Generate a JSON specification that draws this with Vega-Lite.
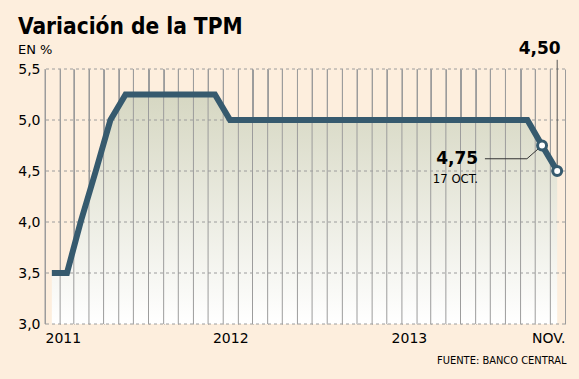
{
  "$schema": "https://vega.github.io/schema/vega-lite/v6.json",
  "width": 520,
  "height": 255,
  "autosize": {"type": "none"},
  "padding": {"left": 45, "top": 69, "right": 14, "bottom": 55},
  "background": "#fdeedd",
  "config": {"view": {"stroke": null}, "font": "DejaVu Sans"},
  "title": {
    "text": "Variación de la TPM",
    "subtitle": "EN %",
    "anchor": "start",
    "frame": "group",
    "font": "DejaVu Sans Condensed, Liberation Sans",
    "fontSize": 22.5,
    "fontWeight": "bold",
    "color": "#000000",
    "subtitleFont": "DejaVu Sans",
    "subtitleFontSize": 13,
    "subtitleColor": "#000000",
    "subtitlePadding": 5,
    "dx": -27,
    "offset": -17
  },
  "datasets": {
    "tpm": [
      {"date": "2011-01-15T00:00", "tpm": 3.5},
      {"date": "2011-02-15T00:00", "tpm": 3.5},
      {"date": "2011-03-15T00:00", "tpm": 4.0},
      {"date": "2011-04-15T00:00", "tpm": 4.5},
      {"date": "2011-05-15T00:00", "tpm": 5.0},
      {"date": "2011-06-15T00:00", "tpm": 5.25},
      {"date": "2011-07-15T00:00", "tpm": 5.25},
      {"date": "2011-08-15T00:00", "tpm": 5.25},
      {"date": "2011-09-15T00:00", "tpm": 5.25},
      {"date": "2011-10-15T00:00", "tpm": 5.25},
      {"date": "2011-11-15T00:00", "tpm": 5.25},
      {"date": "2011-12-15T00:00", "tpm": 5.25},
      {"date": "2012-01-15T00:00", "tpm": 5.0},
      {"date": "2012-02-15T00:00", "tpm": 5.0},
      {"date": "2012-03-15T00:00", "tpm": 5.0},
      {"date": "2012-04-15T00:00", "tpm": 5.0},
      {"date": "2012-05-15T00:00", "tpm": 5.0},
      {"date": "2012-06-15T00:00", "tpm": 5.0},
      {"date": "2012-07-15T00:00", "tpm": 5.0},
      {"date": "2012-08-15T00:00", "tpm": 5.0},
      {"date": "2012-09-15T00:00", "tpm": 5.0},
      {"date": "2012-10-15T00:00", "tpm": 5.0},
      {"date": "2012-11-15T00:00", "tpm": 5.0},
      {"date": "2012-12-15T00:00", "tpm": 5.0},
      {"date": "2013-01-15T00:00", "tpm": 5.0},
      {"date": "2013-02-15T00:00", "tpm": 5.0},
      {"date": "2013-03-15T00:00", "tpm": 5.0},
      {"date": "2013-04-15T00:00", "tpm": 5.0},
      {"date": "2013-05-15T00:00", "tpm": 5.0},
      {"date": "2013-06-15T00:00", "tpm": 5.0},
      {"date": "2013-07-15T00:00", "tpm": 5.0},
      {"date": "2013-08-15T00:00", "tpm": 5.0},
      {"date": "2013-09-15T00:00", "tpm": 5.0},
      {"date": "2013-10-15T00:00", "tpm": 4.75},
      {"date": "2013-11-15T00:00", "tpm": 4.5}
    ]
  },
  "layer": [
    {
      "data": {"name": "tpm"},
      "mark": {
        "type": "area",
        "line": false,
        "fill": {
          "gradient": "linear",
          "x1": 0, "y1": 0, "x2": 0, "y2": 1,
          "stops": [
            {"offset": 0, "color": "#d6d7c2"},
            {"offset": 1, "color": "#ffffff"}
          ]
        }
      },
      "encoding": {
        "x": {
          "field": "date",
          "type": "temporal",
          "scale": {"domain": [{"year": 2011, "month": 1, "date": 1}, {"year": 2013, "month": 12, "date": 1}]},
          "axis": {
            "tickCount": {"interval": "month", "step": 1},
            "grid": true,
            "gridColor": "#9c9c9c",
            "gridWidth": 1,
            "ticks": false,
            "domain": false,
            "labelExpr": "month(datum.value)==0 ? timeFormat(datum.value,'%Y') : (year(datum.value)==2013 && month(datum.value)==11 ? 'NOV.' : '')",
            "labelFlush": true,
            "labelOverlap": false,
            "labelFont": "DejaVu Sans",
            "labelFontSize": 14,
            "labelColor": "#000000",
            "labelPadding": 7,
            "labelOffset": {"condition": {"test": "month(datum.value)==0 && year(datum.value)>2011", "value": 7}, "value": 0},
            "title": "FUENTE: BANCO CENTRAL",
            "titleFont": "DejaVu Sans Condensed, Liberation Sans",
            "titleFontSize": 11,
            "titleFontWeight": "normal",
            "titleColor": "#000000",
            "titleAnchor": "end",
            "titleAlign": "right",
            "titleBaseline": "alphabetic",
            "titleX": 521,
            "titleY": 39
          }
        },
        "y": {
          "field": "tpm",
          "type": "quantitative",
          "scale": {"domain": [3, 5.5], "zero": false, "nice": false},
          "axis": {
            "values": [3, 3.5, 4, 4.5, 5, 5.5],
            "grid": false,
            "domain": false,
            "ticks": false,
            "labelExpr": "replace(format(datum.value,'.1f'),'.',',')",
            "labelFont": "DejaVu Sans",
            "labelFontSize": 14,
            "labelColor": "#000000",
            "labelPadding": 5,
            "title": null
          }
        },
        "y2": {"datum": 3}
      }
    },
    {
      "data": {"name": "tpm"},
      "mark": {"type": "rule", "color": "#9c9c9c", "strokeWidth": 1},
      "encoding": {
        "x": {"field": "date", "timeUnit": "yearmonth", "type": "temporal"}
      }
    },
    {
      "data": {"values": [{"tpm": 3}, {"tpm": 3.5}, {"tpm": 4}, {"tpm": 4.5}, {"tpm": 5}, {"tpm": 5.5}]},
      "mark": {"type": "rule", "color": "#9c9c9c", "strokeWidth": 1, "strokeDash": [3, 3]},
      "encoding": {
        "y": {"field": "tpm", "type": "quantitative"}
      }
    },
    {
      "data": {"values": [{"date": "2013-11-15T00:00", "tpm": 4.5, "to": 5.59}]},
      "mark": {"type": "rule", "color": "#555555", "strokeWidth": 1},
      "encoding": {
        "x": {"field": "date", "type": "temporal"},
        "y": {"field": "tpm", "type": "quantitative"},
        "y2": {"field": "to"}
      }
    },
    {
      "data": {"values": [
        {"date": "2013-06-20T00:00", "tpm": 4.62},
        {"date": "2013-09-14T00:00", "tpm": 4.62},
        {"date": "2013-10-15T00:00", "tpm": 4.75}
      ]},
      "mark": {"type": "line", "color": "#333333", "strokeWidth": 1},
      "encoding": {
        "x": {"field": "date", "type": "temporal"},
        "y": {"field": "tpm", "type": "quantitative"}
      }
    },
    {
      "data": {"name": "tpm"},
      "mark": {"type": "line", "color": "#365a6e", "strokeWidth": 6, "strokeJoin": "miter", "strokeCap": "butt"},
      "encoding": {
        "x": {"field": "date", "type": "temporal"},
        "y": {"field": "tpm", "type": "quantitative"}
      }
    },
    {
      "data": {"name": "tpm"},
      "transform": [{"filter": "datum.date >= datetime(2013, 9, 1)"}],
      "mark": {"type": "point", "shape": "circle", "filled": true, "fill": "#ffffff", "stroke": "#365a6e", "strokeWidth": 3, "size": 80, "opacity": 1},
      "encoding": {
        "x": {"field": "date", "type": "temporal"},
        "y": {"field": "tpm", "type": "quantitative"}
      }
    },
    {
      "data": {"values": [{"date": "2013-11-22T00:00", "tpm": 5.65, "label": "4,50"}]},
      "mark": {"type": "text", "align": "right", "baseline": "alphabetic", "font": "DejaVu Sans", "fontSize": 17, "fontWeight": "bold", "color": "#000000"},
      "encoding": {
        "x": {"field": "date", "type": "temporal"},
        "y": {"field": "tpm", "type": "quantitative"},
        "text": {"field": "label"}
      }
    },
    {
      "data": {"values": [{"date": "2013-06-06T00:00", "tpm": 4.62, "label": "4,75"}]},
      "mark": {"type": "text", "align": "right", "baseline": "middle", "font": "DejaVu Sans", "fontSize": 17, "fontWeight": "bold", "color": "#000000"},
      "encoding": {
        "x": {"field": "date", "type": "temporal"},
        "y": {"field": "tpm", "type": "quantitative"},
        "text": {"field": "label"}
      }
    },
    {
      "data": {"values": [{"date": "2013-06-06T00:00", "tpm": 4.48, "label": "17 OCT."}]},
      "mark": {"type": "text", "align": "right", "baseline": "top", "font": "DejaVu Sans Condensed, Liberation Sans", "fontSize": 13, "color": "#000000"},
      "encoding": {
        "x": {"field": "date", "type": "temporal"},
        "y": {"field": "tpm", "type": "quantitative"},
        "text": {"field": "label"}
      }
    }
  ]
}
